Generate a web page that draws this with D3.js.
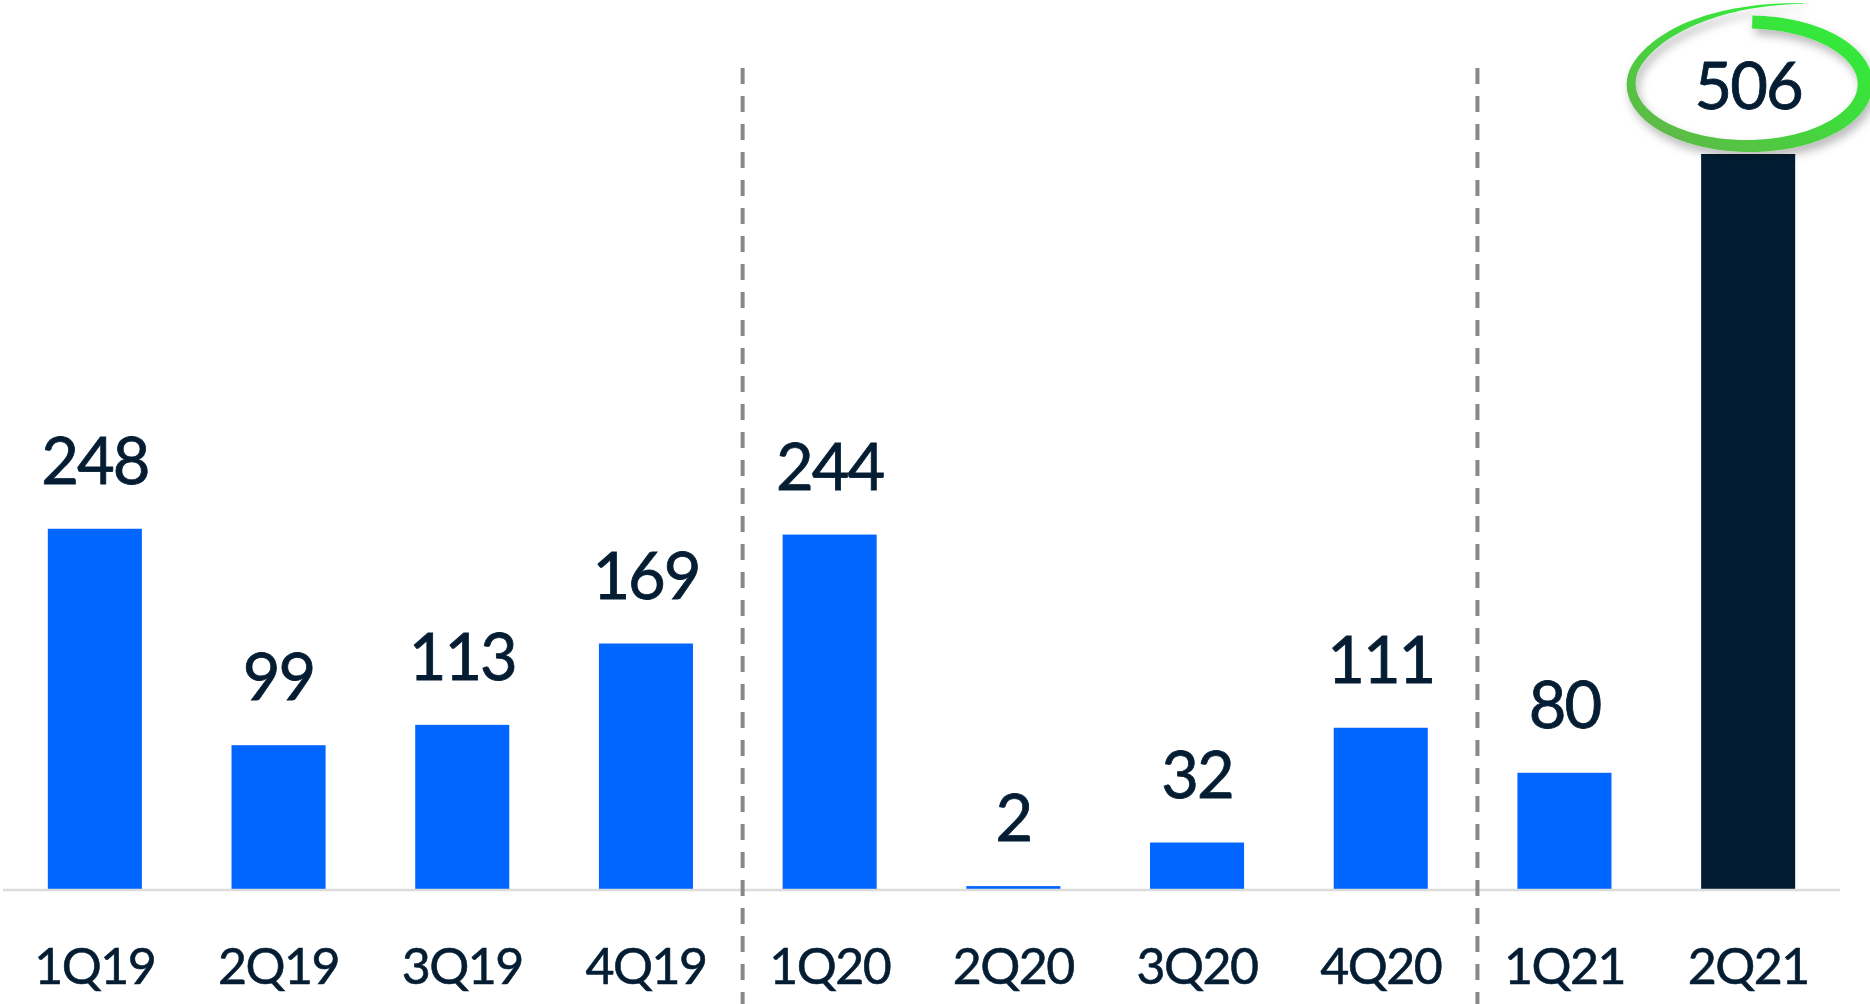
<!DOCTYPE html>
<html><head><meta charset="utf-8">
<script src="https://cdn.jsdelivr.net/npm/d3@7/dist/d3.min.js"></script>
<style>html,body{margin:0;padding:0;background:#fff;}svg{display:block;}</style>
</head><body>
<svg id="c" width="1870" height="1004"></svg>
<script>
const categories = ["1Q19","2Q19","3Q19","4Q19","1Q20","2Q20","3Q20","4Q20","1Q21","2Q21"];
const values = [248,99,113,169,244,2,32,111,80,506];
const highlight = ["2Q21"];
const dividersBefore = ["1Q20","1Q21"];

const W = 1870, H = 1004;
const svg = d3.select("#c");
const x = d3.scaleBand().domain(categories).range([3, 1840]).paddingInner(0.488).paddingOuter(0.244);
const y = d3.scaleLinear().domain([0, 506]).range([889, 154]);
const font = "Lato, 'Source Sans Pro', 'Noto Sans', sans-serif";
const textCol = "#041d33";

const defs = svg.append("defs");
const grad = defs.append("linearGradient").attr("id","g").attr("x1","1").attr("y1","0").attr("x2","0").attr("y2","1");
grad.append("stop").attr("offset","0").attr("stop-color","#2cf23a");
grad.append("stop").attr("offset","0.45").attr("stop-color","#3fdc3c");
grad.append("stop").attr("offset","1").attr("stop-color","#66b04a");
const f = defs.append("filter").attr("id","sh").attr("x","-20%").attr("y","-30%").attr("width","140%").attr("height","170%");
f.append("feDropShadow").attr("dx",3).attr("dy",6).attr("stdDeviation",5).attr("flood-color","#000").attr("flood-opacity",0.28);

// bars
svg.append("g").selectAll("rect").data(categories).join("rect")
  .attr("x", d => x(d))
  .attr("y", (d,i) => y(values[i]))
  .attr("width", x.bandwidth())
  .attr("height", (d,i) => y(0) - y(values[i]))
  .attr("fill", d => highlight.includes(d) ? "#021d33" : "#0066ff");

// baseline
svg.append("line").attr("x1", x.range()[0]).attr("x2", x.range()[1])
  .attr("y1", y(0)+1).attr("y2", y(0)+1).attr("stroke","#dcdcdc").attr("stroke-width",2.5);

// dividers
svg.append("g").selectAll("line").data(dividersBefore).join("line")
  .attr("x1", d => x(d) - 40).attr("x2", d => x(d) - 40)
  .attr("y1", 68).attr("y2", H)
  .attr("stroke","#888").attr("stroke-width",4).attr("stroke-dasharray","16 12");

// value labels
svg.append("g").selectAll("text").data(categories).join("text")
  .attr("x", d => x(d) + x.bandwidth()/2)
  .attr("y", (d,i) => y(values[i]) - 45)
  .attr("text-anchor","middle")
  .attr("font-family", font).attr("font-size", 65).attr("letter-spacing","-2px")
  .attr("fill", textCol).attr("stroke", textCol).attr("stroke-width", 0.8)
  .text((d,i) => values[i]);

// x axis labels
const xAxis = d3.axisBottom(x).tickSize(0).tickPadding(0);
const ax = svg.append("g").attr("transform", `translate(0,${y(0)+95})`).call(xAxis);
ax.select(".domain").remove();
ax.selectAll("text").attr("font-family", font).attr("font-size", 50).attr("letter-spacing","-1.5px")
  .attr("fill", textCol).attr("stroke", textCol).attr("stroke-width", 0.6).attr("dy", 0);

// highlight ellipse (hand-drawn style)
const hc = highlight[0];
const cx = x(hc) + x.bandwidth()/2, cy = y(506) - 70;
const rx = 117, ry = 62;
const pts = [];
const t0 = -88, t1 = 290;
for (let t = t0; t <= t1; t += 2) {
  let s = 1;
  if (t > 200) s = 1 + 0.38 * Math.pow((t - 200) / (t1 - 200), 2);
  const a = t * Math.PI / 180;
  let w;
  if (t < 0) w = 13 + (t - t0) / 88 * 2;
  else if (t < 90) w = 15 - t / 90 * 3;
  else if (t < 180) w = 12 - (t - 90) / 90 * 3;
  else if (t < 240) w = 9 - (t - 180) / 60 * 3;
  else w = 6 - (t - 240) / (t1 - 240) * 5.4;
  pts.push({px: cx + rx * s * Math.cos(a), py: cy + ry * s * Math.sin(a), w: Math.max(w, 0.6)});
}
const left = [], right = [];
pts.forEach((p, i) => {
  const q = pts[Math.min(i+1, pts.length-1)], o = pts[Math.max(i-1, 0)];
  const dx = q.px - o.px, dy = q.py - o.py; const L = Math.hypot(dx, dy) || 1;
  const nx = -dy / L, ny = dx / L;
  left.push([p.px + nx * p.w/2, p.py + ny * p.w/2]);
  right.push([p.px - nx * p.w/2, p.py - ny * p.w/2]);
});
const poly = left.concat(right.reverse());
svg.append("path").attr("d", d3.line().curve(d3.curveLinearClosed)(poly))
  .attr("fill", "url(#g)").attr("filter", "url(#sh)");
</script>
</body></html>
